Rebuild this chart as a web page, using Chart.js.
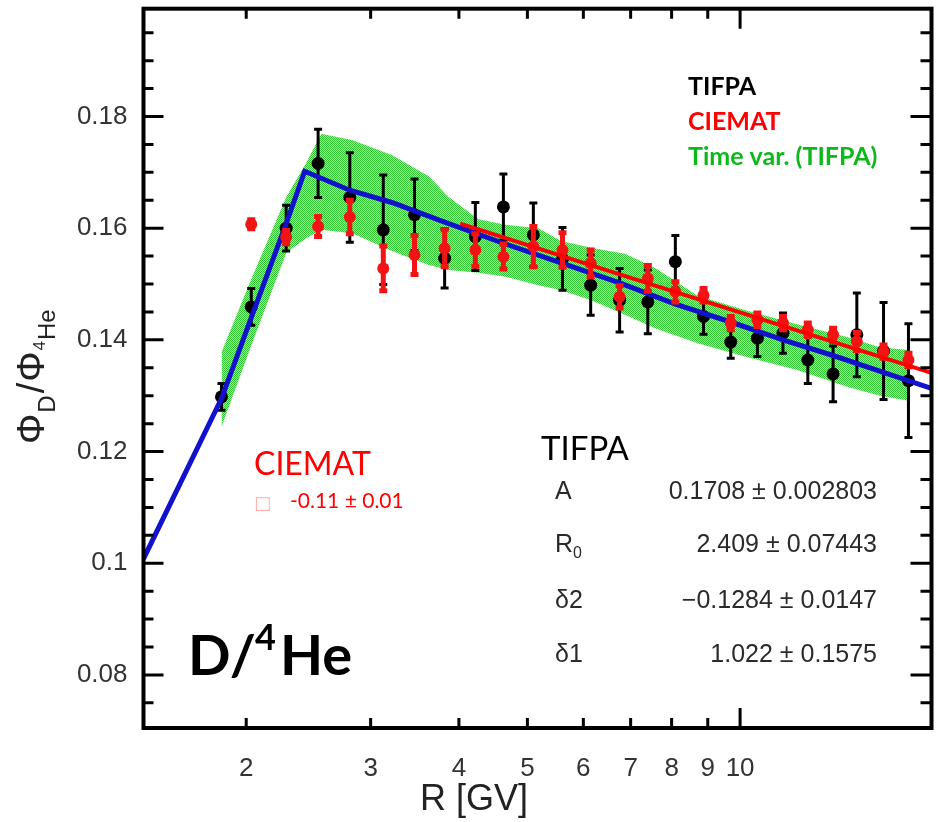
<!DOCTYPE html>
<html>
<head>
<meta charset="utf-8">
<script src="https://cdn.jsdelivr.net/npm/chart.js@4.4.1/dist/chart.umd.min.js"></script>
<style>
  html, body { margin:0; padding:0; background:#fff; }
  #wrap { width:938px; height:822px; }
</style>
</head>
<body>
<div id="wrap"><canvas id="ratioChart" width="938" height="822"></canvas></div>
<script>
// rigidity bins (GV)
const rigidity = [1.845, 2.033, 2.278, 2.528, 2.803, 3.126, 3.461, 3.818, 4.220, 4.624, 5.098, 5.606, 6.145,
                  6.753, 7.403, 8.098, 8.877, 9.700, 10.58, 11.50, 12.47, 13.54, 14.63, 15.96, 17.31];

// TIFPA D/4He ratio and errors
const tifpa = [0.1298, 0.1459, 0.1600, 0.1716, 0.1655, 0.1597, 0.1624, 0.1546, 0.1585, 0.1638, 0.1588, 0.1545, 0.1498,
               0.1471, 0.1468, 0.1540, 0.1442, 0.1396, 0.1403, 0.1412, 0.1364, 0.1339, 0.1409, 0.1380, 0.1327];
const tifpaErr = [0.0024, 0.0033, 0.0041, 0.0061, 0.0080, 0.0098, 0.0064, 0.0053, 0.0061, 0.0059, 0.0057, 0.0056, 0.0054,
                  0.0057, 0.0057, 0.0047, 0.0032, 0.0029, 0.0033, 0.0036, 0.0042, 0.0050, 0.0075, 0.0087, 0.0102];

// CIEMAT (no value in the first bin)
const ciemat = [null, 0.1607, 0.1584, 0.1603, 0.1620, 0.1528, 0.1552, 0.1564, 0.1561, 0.1549, 0.1567, 0.1561, 0.1537,
                0.1477, 0.1510, 0.1486, 0.1480, 0.1430, 0.1436, 0.1430, 0.1418, 0.1409, 0.1397, 0.1379, 0.1364];
const ciematErr = [null, 0.0008, 0.0012, 0.0018, 0.0030, 0.0040, 0.0035, 0.0033, 0.0029, 0.0022, 0.0036, 0.0031, 0.0024,
                   0.0020, 0.0023, 0.0018, 0.0012, 0.0012, 0.0012, 0.0012, 0.0012, 0.0012, 0.0016, 0.0012, 0.0012];

// fit curves
const tifpaFitR = [1.431, 1.845, 2.033, 2.278, 2.420, 2.803, 3.215, 3.818, 4.624, 5.606, 6.753, 8.098, 9.700, 11.50, 13.54, 15.96, 18.66];
const tifpaFit  = [0.1008, 0.1295, 0.1440, 0.1608, 0.1702, 0.1668, 0.1646, 0.1611, 0.1573, 0.1537, 0.1502, 0.1464, 0.1432, 0.1400, 0.1372, 0.1342, 0.1313];
const ciematFitR = [4.018, 7.166, 18.66];
const ciematFit  = [0.1608, 0.1507, 0.1341];

// time variation band (TIFPA)
const bandR = [1.845, 2.022, 2.279, 2.432, 2.554, 2.824, 3.215, 3.625, 3.869, 4.264, 4.655, 5.181, 5.582,
               6.153, 6.871, 7.573, 8.707, 10.24, 12.04, 14.17, 15.77, 17.32];
const bandUpper = [0.1378, 0.1502, 0.1656, 0.1717, 0.1769, 0.1758, 0.1731, 0.1693, 0.1656, 0.1616, 0.1606, 0.1600, 0.1577,
                   0.1565, 0.1554, 0.1529, 0.1479, 0.1452, 0.1428, 0.1405, 0.1387, 0.1382];
const bandLower = [0.1244, 0.1382, 0.1556, 0.1582, 0.1597, 0.1591, 0.1559, 0.1534, 0.1525, 0.1520, 0.1513, 0.1498, 0.1489,
                   0.1471, 0.1445, 0.1421, 0.1394, 0.1369, 0.1346, 0.1316, 0.1300, 0.1291];

// axes
const xTicks = [2, 3, 4, 5, 6, 7, 8, 9, 10];
const xTickLabels = ['2', '3', '4', '5', '6', '7', '8', '9', '10'];
const yTicks = [0.08, 0.1, 0.12, 0.14, 0.16, 0.18];
const yTickLabels = ['0.08', '0.1', '0.12', '0.14', '0.16', '0.18'];

const fitParams = [
  ['A', '', '0.1708 \u00b1 0.002803'],
  ['R', '0', '2.409 \u00b1 0.07443'],
  ['\u03b42', '', '\u22120.1284 \u00b1 0.0147'],
  ['\u03b41', '', '1.022 \u00b1 0.1575']
];

const HELV = '"Liberation Sans", Arial, sans-serif';
const CALI = 'Lato, "Open Sans", sans-serif';

function greenPattern(){
  const c = document.createElement('canvas');
  c.width = 2; c.height = 2;
  const g = c.getContext('2d');
  g.fillStyle = '#a4e9a4';
  g.fillRect(0, 0, 2, 2);
  g.fillStyle = '#33c233';
  g.fillRect(0, 0, 1, 1);
  g.fillRect(1, 1, 1, 1);
  return g.createPattern(c, 'repeat');
}

function pts(xs, ys){
  return xs.map((x, i) => ({ x, y: ys[i] }));
}

const errorBars = {
  id: 'errorBars',
  afterDatasetDraw(chart, args){
    const ds = chart.data.datasets[args.index];
    if(!ds.errors) return;
    const { ctx, scales: { x, y } } = chart;
    ctx.save();
    ctx.strokeStyle = ds.errorColor;
    ctx.lineWidth = ds.errorWidth;
    ds.data.forEach((p, i) => {
      const e = ds.errors[i];
      if(p.y == null || e == null) return;
      const px = x.getPixelForValue(p.x);
      const top = y.getPixelForValue(p.y + e);
      const bot = y.getPixelForValue(p.y - e);
      ctx.beginPath();
      ctx.moveTo(px, top); ctx.lineTo(px, bot);
      ctx.moveTo(px - 4, top); ctx.lineTo(px + 4, top);
      ctx.moveTo(px - 4, bot); ctx.lineTo(px + 4, bot);
      ctx.stroke();
    });
    ctx.restore();
  }
};

const frameAndText = {
  id: 'frameAndText',
  afterDraw(chart){
    const { ctx, chartArea: a, scales: { x, y } } = chart;
    ctx.save();

    // ticks on all four sides, pointing inward
    ctx.strokeStyle = '#000';
    ctx.lineWidth = 3;
    ctx.beginPath();
    for(let v = 0.075; v < 0.2; v += 0.005){
      const val = Math.round(v * 1000) / 1000;
      const major = yTicks.some(t => Math.abs(t - val) < 1e-6);
      const py = y.getPixelForValue(val);
      if(py < a.top || py > a.bottom) continue;
      const len = major ? 20 : 10;
      ctx.moveTo(a.left, py); ctx.lineTo(a.left + len, py);
      ctx.moveTo(a.right, py); ctx.lineTo(a.right - len - 1, py);
    }
    xTicks.forEach(t => {
      const px = x.getPixelForValue(t);
      const len = t === 10 ? 20 : 10;
      ctx.moveTo(px, a.bottom); ctx.lineTo(px, a.bottom - len);
      ctx.moveTo(px, a.top); ctx.lineTo(px, a.top + len);
    });
    ctx.stroke();

    ctx.lineWidth = 4;
    ctx.strokeRect(a.left, a.top, a.right - a.left, a.bottom - a.top);

    // x axis title
    ctx.fillStyle = '#222';
    ctx.font = '36px ' + HELV;
    ctx.textAlign = 'center';
    ctx.textBaseline = 'alphabetic';
    ctx.fillText('R [GV]', 474, 810);

    // y axis title, rotated
    ctx.save();
    ctx.translate(44, 444);
    ctx.rotate(-Math.PI / 2);
    ctx.textAlign = 'left';
    let cx = 0;
    const part = (txt, font, dy, gap) => {
      ctx.font = font;
      ctx.fillText(txt, cx, dy);
      cx += ctx.measureText(txt).width + (gap || 0);
    };
    part('\u03a6', '38px ' + HELV, 0, 1);
    part('D', '24px ' + HELV, 11, 2);
    part('/', '38px ' + HELV, 0, 1);
    part('\u03a6', '38px ' + HELV, 0, 1);
    part('4', '17px ' + HELV, 1, 1);
    part('He', '24px ' + HELV, 11, 0);
    ctx.restore();

    // legend, top right
    ctx.textAlign = 'left';
    ctx.font = 'bold 25px ' + CALI;
    ctx.fillStyle = '#000';
    ctx.fillText('TIFPA', 688, 95);
    ctx.fillStyle = '#ff0000';
    ctx.fillText('CIEMAT', 688, 130);
    ctx.fillStyle = '#0db81a';
    ctx.fillText('Time var. (TIFPA)', 688, 165);

    // CIEMAT fit note
    ctx.fillStyle = '#ff0000';
    ctx.font = '32px ' + CALI;
    ctx.fillText('CIEMAT', 254, 475);
    ctx.fillStyle = 'rgba(255,0,0,0.35)';
    ctx.font = '18px "DejaVu Sans"';
    ctx.fillText('\u25a1', 254, 509);
    ctx.fillStyle = '#ff0000';
    ctx.font = '21px ' + CALI;
    ctx.fillText('-0.11 \u00b1 0.01', 290, 508);

    // TIFPA fit box
    ctx.fillStyle = '#000';
    ctx.font = '33px ' + CALI;
    ctx.fillText('TIFPA', 541, 460);
    ctx.fillStyle = '#2a2a2a';
    const rows = [499, 552, 608, 662];
    fitParams.forEach((p, i) => {
      ctx.textAlign = 'left';
      ctx.font = '25px ' + HELV;
      ctx.fillText(p[0], 555, rows[i]);
      if(p[1]){
        const w = ctx.measureText(p[0]).width;
        ctx.font = '16px ' + HELV;
        ctx.fillText(p[1], 555 + w, rows[i] + 6);
      }
      ctx.font = '25px ' + HELV;
      ctx.textAlign = 'right';
      ctx.fillText(p[2], 877, rows[i]);
    });

    // big label
    ctx.textAlign = 'left';
    ctx.fillStyle = '#000';
    ctx.font = 'bold 56px ' + CALI;
    ctx.fillText('D/', 188, 675);
    ctx.font = 'bold 36px ' + CALI;
    ctx.fillText('4', 255, 650);
    ctx.font = 'bold 56px ' + CALI;
    ctx.fillText('He', 280, 675);

    ctx.restore();
  }
};

const band = greenPattern();

new Chart(document.getElementById('ratioChart'), {
  type: 'scatter',
  data: {
    datasets: [
      {
        label: 'Time var. upper',
        data: pts(bandR, bandUpper),
        showLine: true,
        borderWidth: 0,
        pointRadius: 0,
        backgroundColor: band,
        fill: '+1',
        order: 10
      },
      {
        label: 'Time var. lower',
        data: pts(bandR, bandLower),
        showLine: true,
        borderWidth: 0,
        pointRadius: 0,
        fill: false,
        order: 9
      },
      {
        label: 'TIFPA',
        data: pts(rigidity, tifpa),
        errors: tifpaErr,
        errorColor: '#000',
        errorWidth: 3,
        pointRadius: 6.5,
        backgroundColor: '#000',
        borderWidth: 0,
        order: 8
      },
      {
        label: 'TIFPA fit',
        data: pts(tifpaFitR, tifpaFit),
        showLine: true,
        borderColor: '#1212cc',
        borderWidth: 5,
        pointRadius: 0,
        tension: 0,
        order: 6
      },
      {
        label: 'CIEMAT',
        data: pts(rigidity, ciemat),
        errors: ciematErr,
        errorColor: '#f21414',
        errorWidth: 5,
        pointRadius: 6,
        backgroundColor: '#f21414',
        borderWidth: 0,
        order: 4
      },
      {
        label: 'CIEMAT fit',
        data: pts(ciematFitR, ciematFit),
        showLine: true,
        borderColor: '#ff0000',
        borderWidth: 4,
        pointRadius: 0,
        order: 2
      }
    ]
  },
  options: {
    responsive: false,
    devicePixelRatio: 1,
    animation: false,
    layout: { padding: { top: 8.7, right: 3, left: 0, bottom: 0 } },
    plugins: {
      legend: { display: false },
      tooltip: { enabled: false }
    },
    scales: {
      x: {
        type: 'logarithmic',
        min: 1.431,
        max: 18.66,
        afterBuildTicks: s => { s.ticks = xTicks.map(v => ({ value: v })); },
        afterFit: s => { s.height = 94; s.paddingLeft = 0; s.paddingRight = 0; },
        grid: { display: false },
        border: { display: false },
        ticks: {
          autoSkip: false,
          maxRotation: 0,
          padding: 17,
          color: '#333',
          font: { family: HELV, size: 26 },
          callback: (v, i) => xTickLabels[i]
        }
      },
      y: {
        min: 0.0705,
        max: 0.1993,
        afterBuildTicks: s => { s.ticks = yTicks.map(v => ({ value: v })); },
        afterFit: s => { s.width = 143.5; s.paddingTop = 0; s.paddingBottom = 0; },
        grid: { display: false },
        border: { display: false },
        ticks: {
          padding: 8,
          color: '#333',
          font: { family: HELV, size: 26 },
          callback: (v, i) => yTickLabels[i]
        }
      }
    }
  },
  plugins: [errorBars, frameAndText]
});
</script>
</body>
</html>
